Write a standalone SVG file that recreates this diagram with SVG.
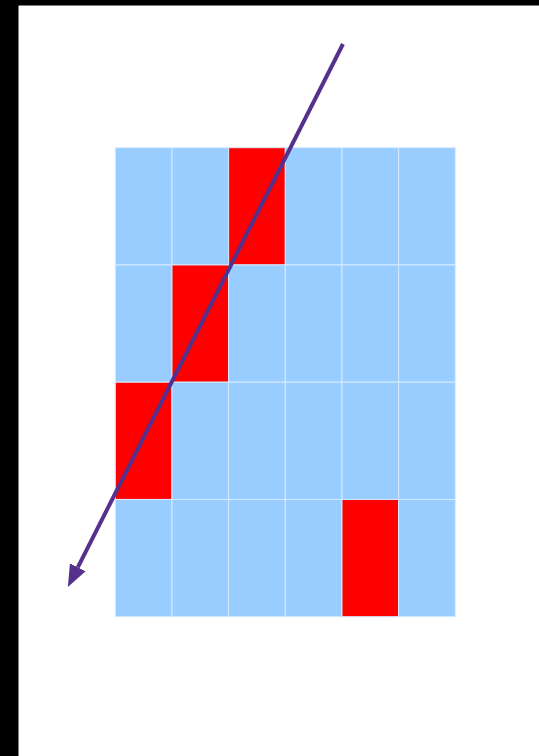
<svg xmlns="http://www.w3.org/2000/svg" width="539" height="756" viewBox="0 0 539 756">
  <style>
    .cell { fill: #99ccff; stroke: #d6ebff; stroke-width: 1; }
    .hit { fill: #ff0000; stroke: #d6ebff; stroke-width: 1; }
    .arrow { stroke: #55308d; stroke-width: 4; fill: none; }
  </style>
  <defs>
    <marker id="head" markerUnits="userSpaceOnUse" markerWidth="22" markerHeight="18" refX="0" refY="8" orient="auto" viewBox="0 0 20 16">
      <polygon points="0,0 20,8 0,16" fill="#55308d"/>
    </marker>
  </defs>
  <rect x="0" y="0" width="539" height="756" fill="#ffffff"/>
  <rect x="0" y="0" width="539" height="5.5" fill="#000000"/>
  <rect x="0" y="0" width="18.5" height="756" fill="#000000"/>
  <g id="grid">
    <g id="r0c0"><rect class="cell" x="115.3" y="147.7" width="56.67" height="117.25"/></g>
    <g id="r0c1"><rect class="cell" x="171.97" y="147.7" width="56.67" height="117.25"/></g>
    <g id="r0c2"><rect class="hit" x="228.63" y="147.7" width="56.67" height="117.25"/></g>
    <g id="r0c3"><rect class="cell" x="285.3" y="147.7" width="56.67" height="117.25"/></g>
    <g id="r0c4"><rect class="cell" x="341.97" y="147.7" width="56.67" height="117.25"/></g>
    <g id="r0c5"><rect class="cell" x="398.63" y="147.7" width="56.67" height="117.25"/></g>

    <g id="r1c0"><rect class="cell" x="115.3" y="264.95" width="56.67" height="117.25"/></g>
    <g id="r1c1"><rect class="hit" x="171.97" y="264.95" width="56.67" height="117.25"/></g>
    <g id="r1c2"><rect class="cell" x="228.63" y="264.95" width="56.67" height="117.25"/></g>
    <g id="r1c3"><rect class="cell" x="285.3" y="264.95" width="56.67" height="117.25"/></g>
    <g id="r1c4"><rect class="cell" x="341.97" y="264.95" width="56.67" height="117.25"/></g>
    <g id="r1c5"><rect class="cell" x="398.63" y="264.95" width="56.67" height="117.25"/></g>

    <g id="r2c0"><rect class="hit" x="115.3" y="382.2" width="56.67" height="117.25"/></g>
    <g id="r2c1"><rect class="cell" x="171.97" y="382.2" width="56.67" height="117.25"/></g>
    <g id="r2c2"><rect class="cell" x="228.63" y="382.2" width="56.67" height="117.25"/></g>
    <g id="r2c3"><rect class="cell" x="285.3" y="382.2" width="56.67" height="117.25"/></g>
    <g id="r2c4"><rect class="cell" x="341.97" y="382.2" width="56.67" height="117.25"/></g>
    <g id="r2c5"><rect class="cell" x="398.63" y="382.2" width="56.67" height="117.25"/></g>

    <g id="r3c0"><rect class="cell" x="115.3" y="499.45" width="56.67" height="117.25"/></g>
    <g id="r3c1"><rect class="cell" x="171.97" y="499.45" width="56.67" height="117.25"/></g>
    <g id="r3c2"><rect class="cell" x="228.63" y="499.45" width="56.67" height="117.25"/></g>
    <g id="r3c3"><rect class="cell" x="285.3" y="499.45" width="56.67" height="117.25"/></g>
    <g id="r3c4"><rect class="hit" x="341.97" y="499.45" width="56.67" height="117.25"/></g>
    <g id="r3c5"><rect class="cell" x="398.63" y="499.45" width="56.67" height="117.25"/></g>
  </g>
  <g id="connectors">
    <line class="arrow" x1="343" y1="44" x2="77.8" y2="567.3" marker-end="url(#head)"/>
  </g>
</svg>
